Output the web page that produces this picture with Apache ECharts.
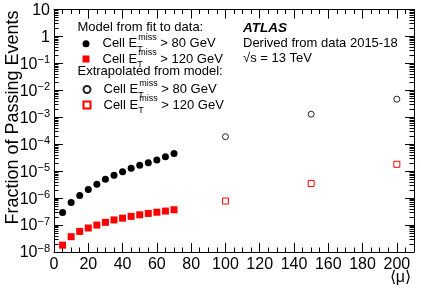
<!DOCTYPE html>
<html>
<head>
<meta charset="utf-8">
<script src="https://cdn.jsdelivr.net/npm/echarts@6/dist/echarts.min.js"></script>
<style>
html, body { margin: 0; padding: 0; background: #fff; }
#main { width: 421px; height: 288px; }
</style>
</head>
<body>
<div id="main"></div>
<script>
// <mu> values
const muFit = [5, 10, 15, 20, 25, 30, 35, 40, 45, 50, 55, 60, 65, 70]
const muExtra = [100, 150, 200]

// model from fit to data
const fit80 = [2.9e-7, 6.9e-7, 1.26e-6, 2.1e-6, 3.3e-6, 5.0e-6, 7.0e-6, 9.5e-6, 1.28e-5, 1.65e-5, 2.05e-5, 2.6e-5, 3.4e-5, 4.5e-5]
const fit120 = [1.8e-8, 3.7e-8, 5.8e-8, 7.8e-8, 1.0e-7, 1.26e-7, 1.55e-7, 1.8e-7, 2.1e-7, 2.4e-7, 2.7e-7, 3.0e-7, 3.3e-7, 3.7e-7]

// extrapolated from model
const extra80 = [1.9e-4, 1.3e-3, 4.7e-3]
const extra120 = [7.8e-7, 3.5e-6, 1.8e-5]

const yTicksText = { 10: '10', 1: '1' }

const names = [
  'Cell E{t|T}{m|miss} > 80 GeV',
  'Cell E{t|T}{m|miss} > 120 GeV',
  'Cell E{t|T}{m|miss} > 80 GeV ',
  'Cell E{t|T}{m|miss} > 120 GeV '
]

function pairs(xs, ys) {
  return xs.map((x, i) => [x, ys[i]])
}

const font = 'Liberation Sans, Arial, Helvetica, sans-serif'

const legendRich = {
  t: { fontSize: 9, width: 1, lineHeight: 10, verticalAlign: 'bottom', fontFamily: font, color: '#000' },
  m: { fontSize: 9, lineHeight: 10, verticalAlign: 'top', fontFamily: font, color: '#000' }
}

function legendAt(name, top) {
  return {
    data: [name],
    left: 82.5,
    top: top - 10.5,
    padding: 0,
    itemWidth: 7,
    itemHeight: 7,
    selectedMode: false,
    textStyle: {
      fontSize: 13,
      fontFamily: font,
      color: '#000',
      lineHeight: 21,
      padding: [0, 0, 0, 8],
      rich: legendRich
    }
  }
}

const axisCommon = {
  axisLine: { show: true, onZero: false, lineStyle: { color: '#000', width: 1 } },
  axisTick: { show: true, inside: true, length: 9, lineStyle: { color: '#000' } },
  splitLine: { show: false },
  minorSplitLine: { show: false }
}

const xMinor = { show: true, splitNumber: 4, length: 4.5, lineStyle: { color: '#000' } }
const yMinor = { show: true, splitNumber: 9, length: 4.5, lineStyle: { color: '#000' } }

let myChart = echarts.init(document.getElementById('main'))
let option = {
  animation: false,
  backgroundColor: '#fff',
  grid: { left: 54, right: 7, top: 9.5, bottom: 36, containLabel: false, outerBoundsMode: 'none' },
  legend: [
    legendAt(names[0], 43.7),
    legendAt(names[1], 59),
    legendAt(names[2], 89.5),
    legendAt(names[3], 105)
  ],
  xAxis: [{
    type: 'value',
    position: 'bottom',
    min: 0,
    max: 210,
    interval: 20,
    ...axisCommon,
    minorTick: xMinor,
    axisLabel: { fontSize: 16, fontFamily: font, color: '#000', margin: 5, showMaxLabel: false }
  }, {
    type: 'value',
    position: 'top',
    min: 0,
    max: 210,
    interval: 20,
    ...axisCommon,
    minorTick: xMinor,
    axisLabel: { show: false }
  }],
  yAxis: [{
    type: 'log',
    logBase: 10,
    position: 'left',
    min: 1e-8,
    max: 10,
    splitNumber: 9,
    ...axisCommon,
    minorTick: yMinor,
    axisLabel: {
      margin: 4,
      fontFamily: font,
      color: '#000',
      formatter: function (v) {
        let e = Math.round(Math.log10(v))
        if (yTicksText[v]) return '{b|' + yTicksText[v] + '}'
        return '{b|10}{s|' + (e < 0 ? '\u2212' + (-e) : e) + '}'
      },
      rich: {
        b: { fontSize: 16, fontFamily: font, color: '#000', lineHeight: 18, verticalAlign: 'bottom' },
        s: { fontSize: 11, fontFamily: font, color: '#000', lineHeight: 12, verticalAlign: 'top' }
      }
    }
  }, {
    type: 'log',
    logBase: 10,
    position: 'right',
    min: 1e-8,
    max: 10,
    splitNumber: 9,
    ...axisCommon,
    minorTick: yMinor,
    axisLabel: { show: false }
  }],
  graphic: [
    { type: 'text', x: 13, y: 117.5, rotation: Math.PI / 2, style: { text: 'Fraction of Passing Events', font: '18px ' + font, fill: '#000', align: 'center', verticalAlign: 'middle' } },
    { type: 'text', x: 411, y: 278, style: { text: '⟨μ⟩', font: '16px ' + font, fill: '#000', align: 'right', verticalAlign: 'middle' } },
    { type: 'text', left: 77.5, top: 21, style: { text: 'Model from fit to data:', font: '13px ' + font, fill: '#000' } },
    { type: 'text', left: 77.5, top: 65, style: { text: 'Extrapolated from model:', font: '13px ' + font, fill: '#000' } },
    { type: 'text', left: 243, top: 21, style: { text: 'ATLAS', font: 'italic bold 13.5px ' + font, fill: '#000' } },
    { type: 'text', left: 243, top: 37, style: { text: 'Derived from data 2015-18', font: '13px ' + font, fill: '#000' } },
    { type: 'text', left: 243, top: 52, style: { text: '\u221as = 13 TeV', font: '13px ' + font, fill: '#000' } }
  ],
  series: [{
    name: names[0],
    type: 'scatter',
    symbol: 'circle',
    symbolSize: 7,
    itemStyle: { color: '#000', opacity: 1 },
    data: pairs(muFit, fit80)
  }, {
    name: names[1],
    type: 'scatter',
    symbol: 'rect',
    symbolSize: 7,
    itemStyle: { color: '#ff0000', opacity: 1 },
    data: pairs(muFit, fit120)
  }, {
    name: names[2],
    type: 'scatter',
    symbol: 'circle',
    symbolSize: 6,
    itemStyle: { color: '#fff', borderColor: '#222', borderWidth: 1, opacity: 1 },
    data: pairs(muExtra, extra80)
  }, {
    name: names[3],
    type: 'scatter',
    symbol: 'rect',
    symbolSize: 6,
    itemStyle: { color: '#fff', borderColor: '#ff0000', borderWidth: 1, opacity: 1 },
    data: pairs(muExtra, extra120)
  }]
}
myChart.setOption(option)
</script>
</body>
</html>
